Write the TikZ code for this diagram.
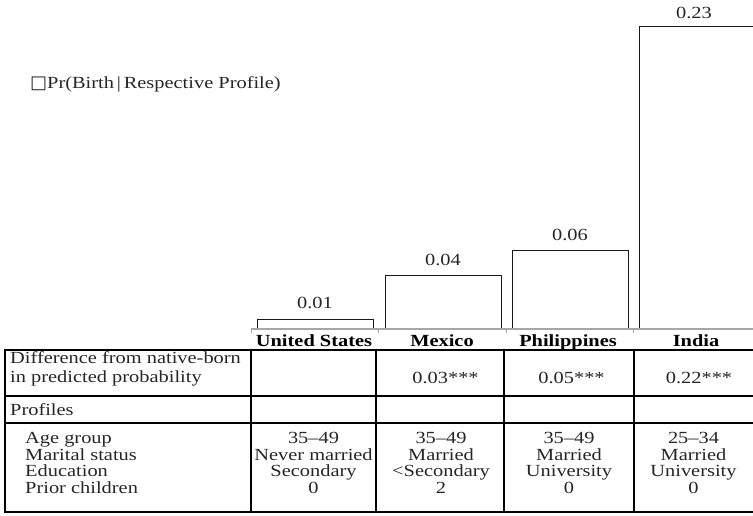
\documentclass[tikz,border=0pt]{standalone}
\usepackage{fontspec}
\setmainfont{Liberation Serif}[FakeStretch=1.2]
\newfontfamily\symfont{DejaVu Sans}
\begin{document}
\begin{tikzpicture}[x=1pt,y=-1pt,
  txt/.style={inner sep=0pt, font=\fontsize{17}{17}\selectfont, text=black!85},
  leftxt/.style={txt, anchor=base west},
  midtxt/.style={txt, anchor=base},
  country/.style={txt, anchor=base, font=\fontsize{17}{17}\selectfont\bfseries, text=black},
  barbox/.style={draw=black!90, line width=0.9pt},
  rule/.style={draw=black, line width=2pt},
  axisln/.style={draw=black!35, line width=1.5pt},
  tickln/.style={draw=black!35, line width=0.8pt}]
\useasboundingbox (0,0) rectangle (753,515);

% legend
\node[leftxt] (legend) at (30,88.3) {{\symfont\fontsize{18}{18}\selectfont □}Pr(Birth\,|\,Respective Profile)};

% bars
\draw[barbox] (257,329) -- (257,319) -- (373,319) -- (373,329);
\draw[barbox] (385,329) -- (385,275.5) -- (501,275.5) -- (501,329);
\draw[barbox] (512,329) -- (512,250) -- (628,250) -- (628,329);
\draw[barbox] (639,329) -- (639,26.5) -- (753,26.5);

% bar values
\node[midtxt] (vus) at (315,308) {0.01};
\node[midtxt] (vmx) at (443,265) {0.04};
\node[midtxt] (vph) at (570,240) {0.06};
\node[midtxt] (vin) at (694,18.3) {0.23};

% axis
\draw[axisln] (251,329) -- (753,329);
\foreach \tx in {251,378,506,633} \draw[tickln] (\tx,329) -- (\tx,332.5);

% country labels
\node[country] (cus) at (314,346) {United States};
\node[country] (cmx) at (442,346) {Mexico};
\node[country] (cph) at (568,346) {Philippines};
\node[country] (cin) at (696,346) {India};

% table rules
\draw[rule] (4.3,350) -- (753,350);
\draw[rule] (4.3,396) -- (753,396);
\draw[rule] (4.3,423) -- (753,423);
\draw[rule] (4.3,511.5) -- (753,511.5);
\draw[rule] (5.3,349) -- (5.3,512.5);
\foreach \cx in {251,376,504,634} \draw[rule] (\cx,350) -- (\cx,511.5);

% table text, left column
\node[leftxt] (d1) at (10,363.7) {Difference from native-born};
\node[leftxt] (d2) at (10,382) {in predicted probability};
\node[leftxt] (pf) at (10,415) {Profiles};
\node[leftxt] (ag) at (25,443.3) {Age group};
\node[leftxt] (ms) at (25,460) {Marital status};
\node[leftxt] (ed) at (25,476.7) {Education};
\node[leftxt] (pc) at (25,493.3) {Prior children};

% difference row
\node[midtxt] (dmx) at (445.5,383) {0.03***};
\node[midtxt] (dph) at (571.5,383) {0.05***};
\node[midtxt] (din) at (699,383) {0.22***};

% profiles: United States
\node[midtxt] (us1) at (313.5,443.3) {35–49};
\node[midtxt] (us2) at (313.5,460) {Never married};
\node[midtxt] (us3) at (313.5,476.7) {Secondary};
\node[midtxt] (us4) at (313.5,493.3) {0};
% Mexico
\node[midtxt] (mx1) at (441,443.3) {35–49};
\node[midtxt] (mx2) at (441,460) {Married};
\node[midtxt] (mx3) at (441,476.7) {<Secondary};
\node[midtxt] (mx4) at (441,493.3) {2};
% Philippines
\node[midtxt] (ph1) at (569,443.3) {35–49};
\node[midtxt] (ph2) at (569,460) {Married};
\node[midtxt] (ph3) at (569,476.7) {University};
\node[midtxt] (ph4) at (569,493.3) {0};
% India
\node[midtxt] (in1) at (693.5,443.3) {25–34};
\node[midtxt] (in2) at (693.5,460) {Married};
\node[midtxt] (in3) at (693.5,476.7) {University};
\node[midtxt] (in4) at (693.5,493.3) {0};
\end{tikzpicture}
\end{document}
